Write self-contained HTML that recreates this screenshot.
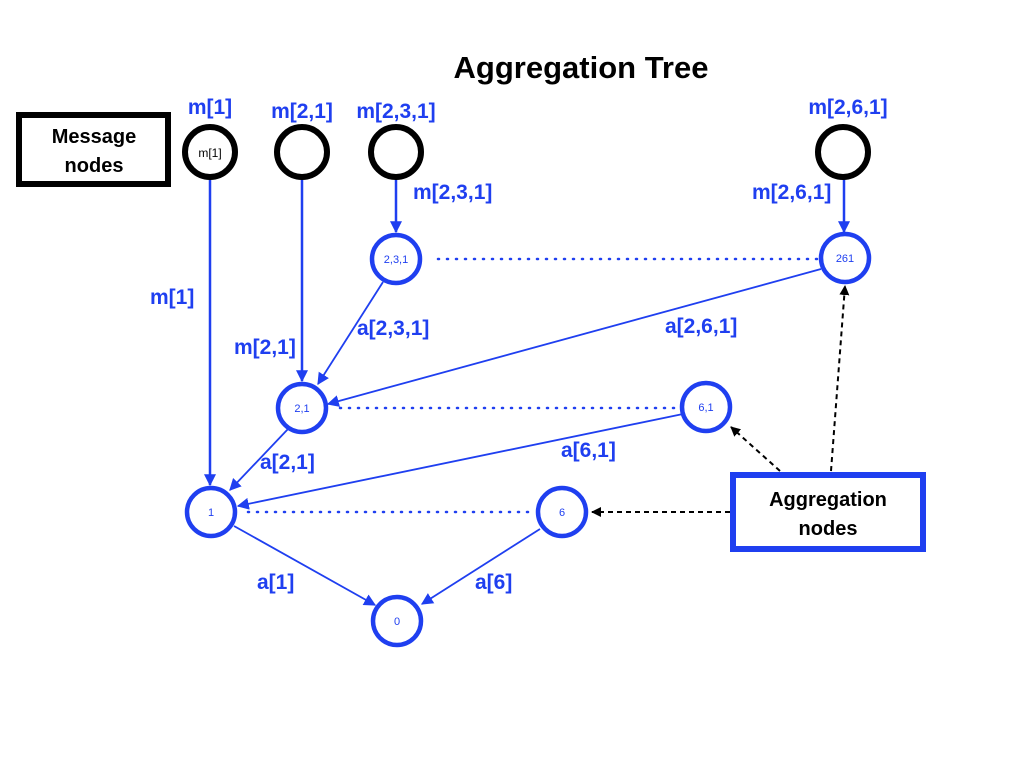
<!DOCTYPE html>
<html><head><meta charset="utf-8"><style>
html,body{margin:0;padding:0;background:#fff;}
svg{display:block;}
text{font-family:"Liberation Sans",Arial,sans-serif;}
</style></head><body>
<svg width="1024" height="768" viewBox="0 0 1024 768" xmlns="http://www.w3.org/2000/svg">
<defs>
<marker id="ab2" viewBox="0 0 10 10" refX="9" refY="5" markerWidth="12" markerHeight="12" orient="auto" markerUnits="userSpaceOnUse"><path d="M0,0 L10,5 L0,10 z" fill="#1f3ff0"/></marker>
<marker id="ak" viewBox="0 0 10 10" refX="9" refY="5" markerWidth="10" markerHeight="10" orient="auto" markerUnits="userSpaceOnUse"><path d="M0,0 L10,5 L0,10 z" fill="#000"/></marker>
</defs>
<text x="581" y="78" font-size="31" font-weight="bold" text-anchor="middle" fill="#000">Aggregation Tree</text>

<rect x="19" y="115" width="149" height="69" fill="#fff" stroke="#000" stroke-width="6"/>
<text x="94" y="143" font-size="20" font-weight="bold" text-anchor="middle">Message</text>
<text x="94" y="172" font-size="20" font-weight="bold" text-anchor="middle">nodes</text>

<rect x="733" y="475" width="190" height="74" fill="#fff" stroke="#1f3ff0" stroke-width="6"/>
<text x="828" y="506" font-size="20" font-weight="bold" text-anchor="middle">Aggregation</text>
<text x="828" y="535" font-size="20" font-weight="bold" text-anchor="middle">nodes</text>

<g stroke="#1f3ff0" stroke-width="2.5" fill="none">
<line x1="210" y1="178" x2="210" y2="485" marker-end="url(#ab2)"/>
<line x1="302" y1="178" x2="302" y2="381" marker-end="url(#ab2)"/>
<line x1="396" y1="178" x2="396" y2="232" marker-end="url(#ab2)"/>
<line x1="844" y1="178" x2="844" y2="232" marker-end="url(#ab2)"/>
</g>
<g stroke="#1f3ff0" stroke-width="1.8" fill="none">
<line x1="383" y1="282" x2="318" y2="384" marker-end="url(#ab2)"/>
<line x1="821" y1="269" x2="328" y2="404" marker-end="url(#ab2)"/>
<line x1="288" y1="429" x2="230" y2="490" marker-end="url(#ab2)"/>
<line x1="683" y1="414" x2="238" y2="506" marker-end="url(#ab2)"/>
<line x1="234" y1="526" x2="375" y2="605" marker-end="url(#ab2)"/>
<line x1="540" y1="529" x2="422" y2="604" marker-end="url(#ab2)"/>
</g>
<g stroke="#1f3ff0" stroke-width="2.5" stroke-dasharray="1 8" stroke-linecap="round" fill="none">
<line x1="438" y1="259" x2="818" y2="259"/>
<line x1="340" y1="408" x2="680" y2="408"/>
<line x1="248" y1="512" x2="535" y2="512"/>
</g>
<g stroke="#000" stroke-width="2" stroke-dasharray="5 4" fill="none">
<line x1="780" y1="471" x2="731" y2="427" marker-end="url(#ak)"/>
<line x1="831" y1="471" x2="845" y2="286" marker-end="url(#ak)"/>
<line x1="730" y1="512" x2="592" y2="512" marker-end="url(#ak)"/>
</g>

<g fill="#fff" stroke="#000" stroke-width="6">
<circle cx="210" cy="152" r="25"/>
<circle cx="302" cy="152" r="25"/>
<circle cx="396" cy="152" r="25"/>
<circle cx="843" cy="152" r="25"/>
</g>
<text x="210" y="157" font-size="12" text-anchor="middle">m[1]</text>

<g fill="#fff" stroke="#1f3ff0" stroke-width="4.5">
<circle cx="396" cy="259" r="24"/>
<circle cx="845" cy="258" r="24"/>
<circle cx="302" cy="408" r="24"/>
<circle cx="706" cy="407" r="24"/>
<circle cx="211" cy="512" r="24"/>
<circle cx="562" cy="512" r="24"/>
<circle cx="397" cy="621" r="24"/>
</g>
<g fill="#1f3ff0" font-size="11" text-anchor="middle">
<text x="396" y="263">2,3,1</text>
<text x="845" y="262">261</text>
<text x="302" y="412">2,1</text>
<text x="706" y="411">6,1</text>
<text x="211" y="516">1</text>
<text x="562" y="516">6</text>
<text x="397" y="625">0</text>
</g>

<g fill="#1f3ff0" font-size="21" font-weight="bold">
<text x="210" y="114" text-anchor="middle">m[1]</text>
<text x="302" y="118" text-anchor="middle">m[2,1]</text>
<text x="396" y="118" text-anchor="middle">m[2,3,1]</text>
<text x="848" y="114" text-anchor="middle">m[2,6,1]</text>
<text x="413" y="199">m[2,3,1]</text>
<text x="752" y="199">m[2,6,1]</text>
<text x="150" y="304">m[1]</text>
<text x="234" y="354">m[2,1]</text>
<text x="357" y="335">a[2,3,1]</text>
<text x="665" y="333">a[2,6,1]</text>
<text x="260" y="469">a[2,1]</text>
<text x="561" y="457">a[6,1]</text>
<text x="257" y="589">a[1]</text>
<text x="475" y="589">a[6]</text>
</g>
</svg>
</body></html>
